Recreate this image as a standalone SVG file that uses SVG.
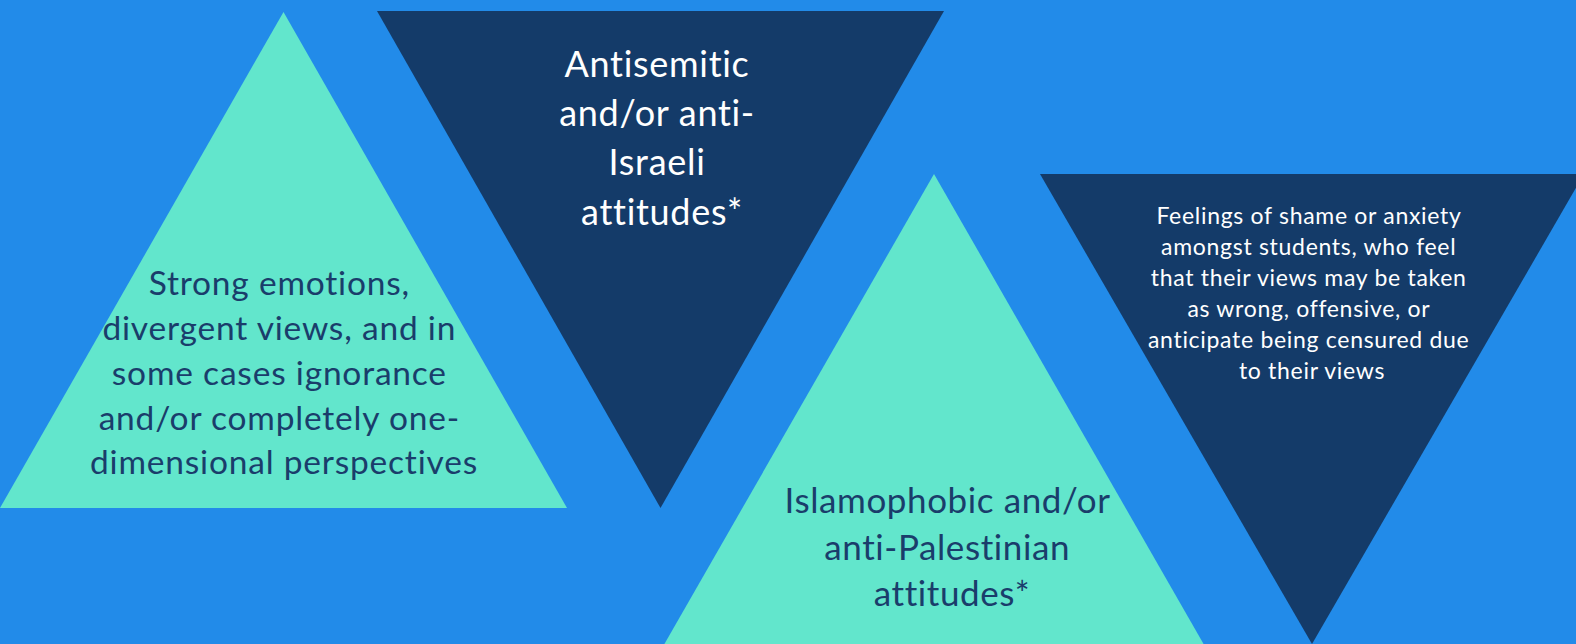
<svg xmlns="http://www.w3.org/2000/svg" width="1576" height="644" viewBox="0 0 1576 644">
<style>
  .teal { fill: #62e6cc; }
  .navy { fill: #143b69; }
  .t { font-family: Lato, "Open Sans", sans-serif; text-anchor: middle; }
  .dark { fill: #1a3d6b; }
  .light { fill: #ffffff; }
  .s1 { font-size: 33.5px; letter-spacing: 0.8px; }
  .s2 { font-size: 36px; letter-spacing: 0.7px; }
  .s3 { font-size: 35px; letter-spacing: 0.6px; }
  .s4 { font-size: 23px; letter-spacing: 0.7px; }
</style>
<rect x="0" y="0" width="1576" height="644" fill="#228be9"/>
<g id="node-strong-emotions">
  <polygon class="teal" points="283.5,12 567,508 0,508"/>
  <text class="t dark s1">
    <tspan x="284" y="295">Strong emotions,</tspan>
    <tspan x="284" y="340">divergent views, and in</tspan>
    <tspan x="284" y="385">some cases ignorance</tspan>
    <tspan x="284" y="430">and/or completely one-</tspan>
    <tspan x="284" y="474">dimensional perspectives</tspan>
  </text>
</g>
<g id="node-antisemitic">
  <polygon class="navy" points="377,11 944,11 660.5,508"/>
  <text class="t light s2">
    <tspan x="662" y="77">Antisemitic</tspan>
    <tspan x="662" y="126">and/or anti-</tspan>
    <tspan x="662" y="175">Israeli</tspan>
    <tspan x="662" y="225">attitudes*</tspan>
  </text>
</g>
<g id="node-islamophobic">
  <polygon class="teal" points="934,174 1218.5,670 649.5,670"/>
  <text class="t dark s3">
    <tspan x="952" y="513">Islamophobic and/or</tspan>
    <tspan x="952" y="560">anti-Palestinian</tspan>
    <tspan x="952" y="606">attitudes*</tspan>
  </text>
</g>
<g id="node-shame-anxiety">
  <polygon class="navy" points="1040,174 1584,174 1312,644"/>
  <text class="t light s4">
    <tspan x="1312" y="224">Feelings of shame or anxiety</tspan>
    <tspan x="1312" y="255">amongst students, who feel</tspan>
    <tspan x="1312" y="286">that their views may be taken</tspan>
    <tspan x="1312" y="317">as wrong, offensive, or</tspan>
    <tspan x="1312" y="348">anticipate being censured due</tspan>
    <tspan x="1312" y="379">to their views</tspan>
  </text>
</g>
<g id="connectors"></g>
</svg>
